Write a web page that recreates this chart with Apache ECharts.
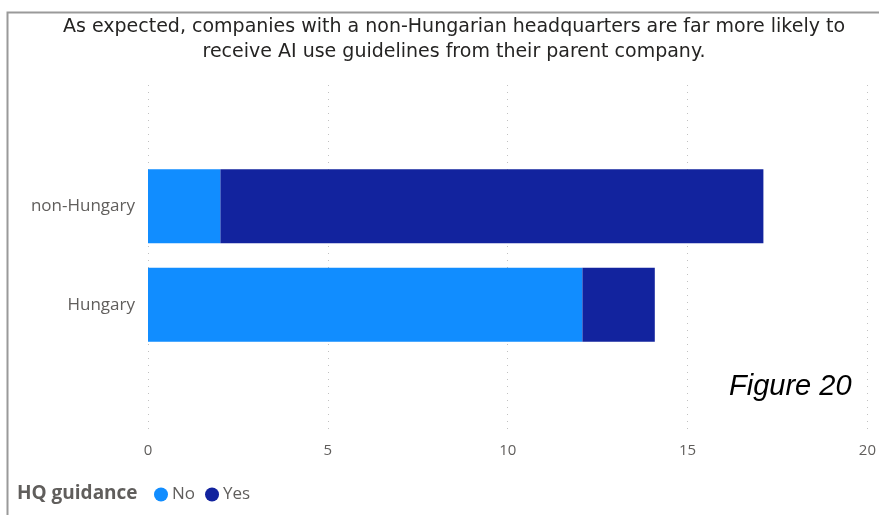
<!DOCTYPE html>
<html>
<head>
<meta charset="utf-8">
<script src="https://cdn.jsdelivr.net/npm/echarts@6/dist/echarts.min.js"></script>
<style>
  html, body { margin: 0; padding: 0; background: #fff; }
  #chart { width: 879px; height: 515px; }
</style>
</head>
<body>
<div id="chart"></div>
<script>
// HQ location of each company group (bottom to top on the axis)
const categories = ['Hungary', 'non-Hungary'];
// Count of companies that did / did not receive AI-use guidance from HQ
const noGuidance = [12, 2];
const yesGuidance = [2, 15];
const xTicks = [0, 5, 10, 15, 20];

const titleLines = [
  'As expected, companies with a non-Hungarian headquarters are far more likely to',
  'receive AI use guidelines from their parent company.'
];

const uiFont = '"Open Sans", "Noto Sans", sans-serif';
const titleFont = '"DejaVu Sans", sans-serif';
const grey = '#605E5C';

const chart = echarts.init(document.getElementById('chart'), null, { renderer: 'canvas' });

chart.setOption({
  animation: false,
  backgroundColor: '#ffffff',
  title: {
    text: titleLines.join('\n'),
    left: 449,
    top: 10,
    textAlign: 'center',
    textStyle: {
      fontFamily: titleFont,
      fontSize: 19,
      fontWeight: 'normal',
      color: '#252423',
      lineHeight: 25
    }
  },
  legend: {
    data: ['No', 'Yes'],
    left: 149,
    top: 481,
    icon: 'circle',
    itemWidth: 14,
    itemHeight: 14,
    itemGap: 10,
    textStyle: { fontFamily: uiFont, fontSize: 17, color: grey, padding: [0, 0, 0, -1] }
  },
  grid: [
    // full-height frame that carries the dotted vertical gridlines
    { left: 148, right: 7, top: 85, height: 350 },
    // band area where the two categories sit
    { left: 148, right: 7, top: 157, height: 197 }
  ],
  xAxis: [
    {
      gridIndex: 0,
      type: 'value',
      min: 0,
      max: 20,
      interval: 5,
      axisLine: { show: false },
      axisTick: { show: false },
      axisLabel: {
        margin: 8,
        fontFamily: uiFont,
        fontSize: 15,
        color: grey,
        formatter: v => (xTicks.includes(v) ? String(v) : '')
      },
      splitLine: { show: true, lineStyle: { color: '#C2C2C2', type: [1, 6], width: 1 } }
    },
    {
      gridIndex: 1,
      type: 'value',
      min: 0,
      max: 20,
      interval: 5,
      show: false,
      splitLine: { show: false }
    }
  ],
  yAxis: [
    {
      gridIndex: 0,
      type: 'value',
      show: false,
      splitLine: { show: false }
    },
    {
      gridIndex: 1,
      type: 'category',
      data: categories,
      axisLine: { show: false },
      axisTick: { show: false },
      axisLabel: {
        margin: 13,
        fontFamily: uiFont,
        fontSize: 17,
        color: grey
      }
    }
  ],
  series: [
    {
      name: 'No',
      type: 'bar',
      stack: 'hq',
      xAxisIndex: 1,
      yAxisIndex: 1,
      barWidth: 74,
      itemStyle: { color: '#118DFF' },
      data: noGuidance
    },
    {
      name: 'Yes',
      type: 'bar',
      stack: 'hq',
      xAxisIndex: 1,
      yAxisIndex: 1,
      barWidth: 74,
      itemStyle: { color: '#12239E' },
      data: yesGuidance
    }
  ],
  graphic: [
    // visual frame (top and left edges)
    {
      type: 'polyline',
      shape: { points: [[7.5, 515], [7.5, 12.5], [879, 12.5]] },
      style: { stroke: '#9A9A9A', lineWidth: 2, fill: null },
      silent: true
    },
    {
      type: 'text',
      left: 17,
      top: 484,
      style: {
        text: 'HQ guidance',
        font: 'bold 19px ' + uiFont,
        fill: grey
      }
    },
    {
      type: 'text',
      left: 729,
      top: 372,
      style: {
        text: 'Figure 20',
        font: 'italic 29px "Liberation Sans", Arial, sans-serif',
        fill: '#000000'
      }
    }
  ]
});
</script>
</body>
</html>
